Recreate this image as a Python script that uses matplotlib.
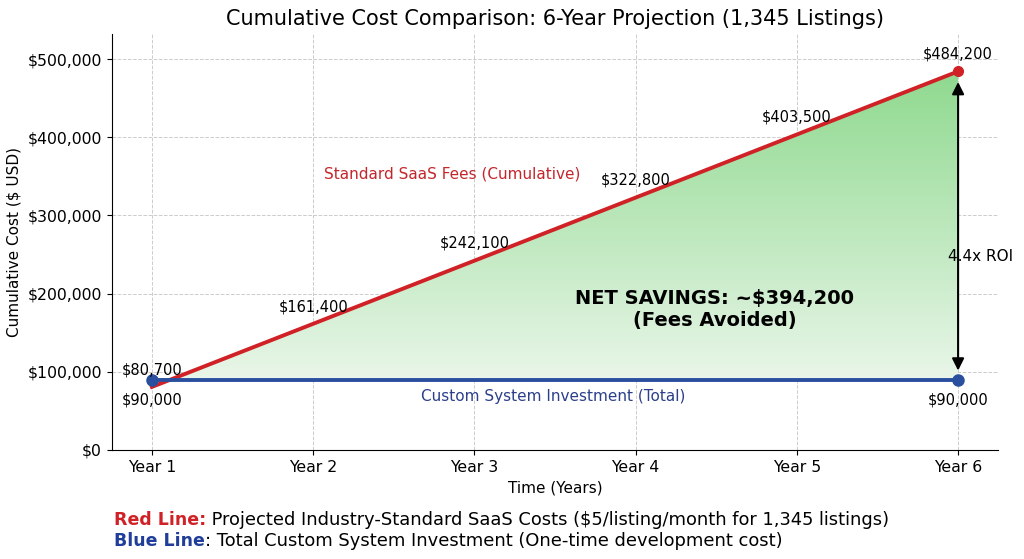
import numpy as np
import matplotlib
matplotlib.use("Agg")
import matplotlib.pyplot as plt
from matplotlib.colors import LinearSegmentedColormap
from matplotlib.ticker import FuncFormatter

# datos
years = [1, 2, 3, 4, 5, 6]
year_labels = ["Year 1", "Year 2", "Year 3", "Year 4", "Year 5", "Year 6"]
saas_cost = [80700, 161400, 242100, 322800, 403500, 484200]
custom_cost = [90000, 90000, 90000, 90000, 90000, 90000]
net_savings = 394200
roi_text = "4.4x ROI"

red = "#d02226"
blue = "#2a4f9f"

fig, ax = plt.subplots(figsize=(10.24, 5.59), dpi=100)
fig.subplots_adjust(left=0.109, right=0.975, top=0.94, bottom=0.195)

# relleno degradado entre las dos lineas
poly = ax.fill_between(years, custom_cost, saas_cost, color="none", lw=0)
cmap = LinearSegmentedColormap.from_list("g", ["#e9f6e9", "#8fd98f"])
grad = np.linspace(0, 1, 256).reshape(-1, 1)
img = ax.imshow(grad, cmap=cmap, aspect="auto", origin="lower",
                extent=[years[0], years[-1], min(custom_cost), max(saas_cost)], zorder=1)
img.set_clip_path(poly.get_paths()[0], transform=ax.transData)

ax.plot(years, saas_cost, color=red, lw=2.8, zorder=3)
ax.plot(years, custom_cost, color=blue, lw=2.8, zorder=3)
ax.plot([years[-1]], [saas_cost[-1]], "o", color=red, ms=7, zorder=4)
ax.plot([years[0], years[-1]], [custom_cost[0], custom_cost[-1]], "o", color=blue, ms=8, zorder=4)

# etiquetas de valores
for x, v in zip(years, saas_cost):
    ax.annotate(f"${v:,.0f}", (x, v), xytext=(0, 7), textcoords="offset points",
                ha="center", va="bottom", fontsize=10.5, zorder=5)
for x in [years[0], years[-1]]:
    v = custom_cost[years.index(x)]
    ax.annotate(f"${v:,.0f}", (x, v), xytext=(0, -9), textcoords="offset points",
                ha="center", va="top", fontsize=10.5, zorder=5)

ax.text(2.865, 353000, "Standard SaaS Fees (Cumulative)", color="#c4262b", fontsize=11,
        ha="center", va="center")
ax.text(3.49, 68000, "Custom System Investment (Total)", color="#2b3f8a", fontsize=11,
        ha="center", va="center")
ax.text(4.49, 180000, f"NET SAVINGS: ~${net_savings:,.0f}\n(Fees Avoided)", fontsize=14,
        fontweight="bold", ha="center", va="center", zorder=5)

# flecha ROI
ax.annotate("", xy=(years[-1], saas_cost[-1] - 10000), xytext=(years[-1], custom_cost[-1] + 8000),
            arrowprops=dict(arrowstyle="<|-|>", color="black", lw=1.5, mutation_scale=18), zorder=5)
ax.text(6.14, 247000, roi_text, fontsize=11, ha="center", va="center", zorder=6)

ax.set_xlim(0.75, 6.25)
ax.set_ylim(0, max(saas_cost) * 1.1)
ax.set_xticks(years)
ax.set_xticklabels(year_labels)
ax.set_yticks(np.arange(0, 500001, 100000))
ax.yaxis.set_major_formatter(FuncFormatter(lambda v, p: f"${v:,.0f}"))
ax.tick_params(labelsize=11.3)
ax.grid(True, ls="--", color="#cccccc", lw=0.7)
ax.set_axisbelow(True)
for s in ["top", "right"]:
    ax.spines[s].set_visible(False)

ax.set_title("Cumulative Cost Comparison: 6-Year Projection (1,345 Listings)", fontsize=15)
ax.set_xlabel("Time (Years)", fontsize=11)
ax.set_ylabel("Cumulative Cost ($ USD)", fontsize=11)

# pie de figura
fig.canvas.draw()
r = fig.canvas.get_renderer()
x0 = 0.111
for y, lab, col, rest in [(0.07, "Red Line:", red, " Projected Industry-Standard SaaS Costs ($5/listing/month for 1,345 listings)"),
                          (0.032, "Blue Line", "#1f3d99", ": Total Custom System Investment (One-time development cost)")]:
    t = fig.text(x0, y, lab, color=col, fontweight="bold", fontsize=12.5, va="center")
    w = t.get_window_extent(renderer=r).width / fig.bbox.width
    fig.text(x0 + w, y, rest, fontsize=12.9, va="center")

fig.savefig("out.png", dpi=100, facecolor="white")
